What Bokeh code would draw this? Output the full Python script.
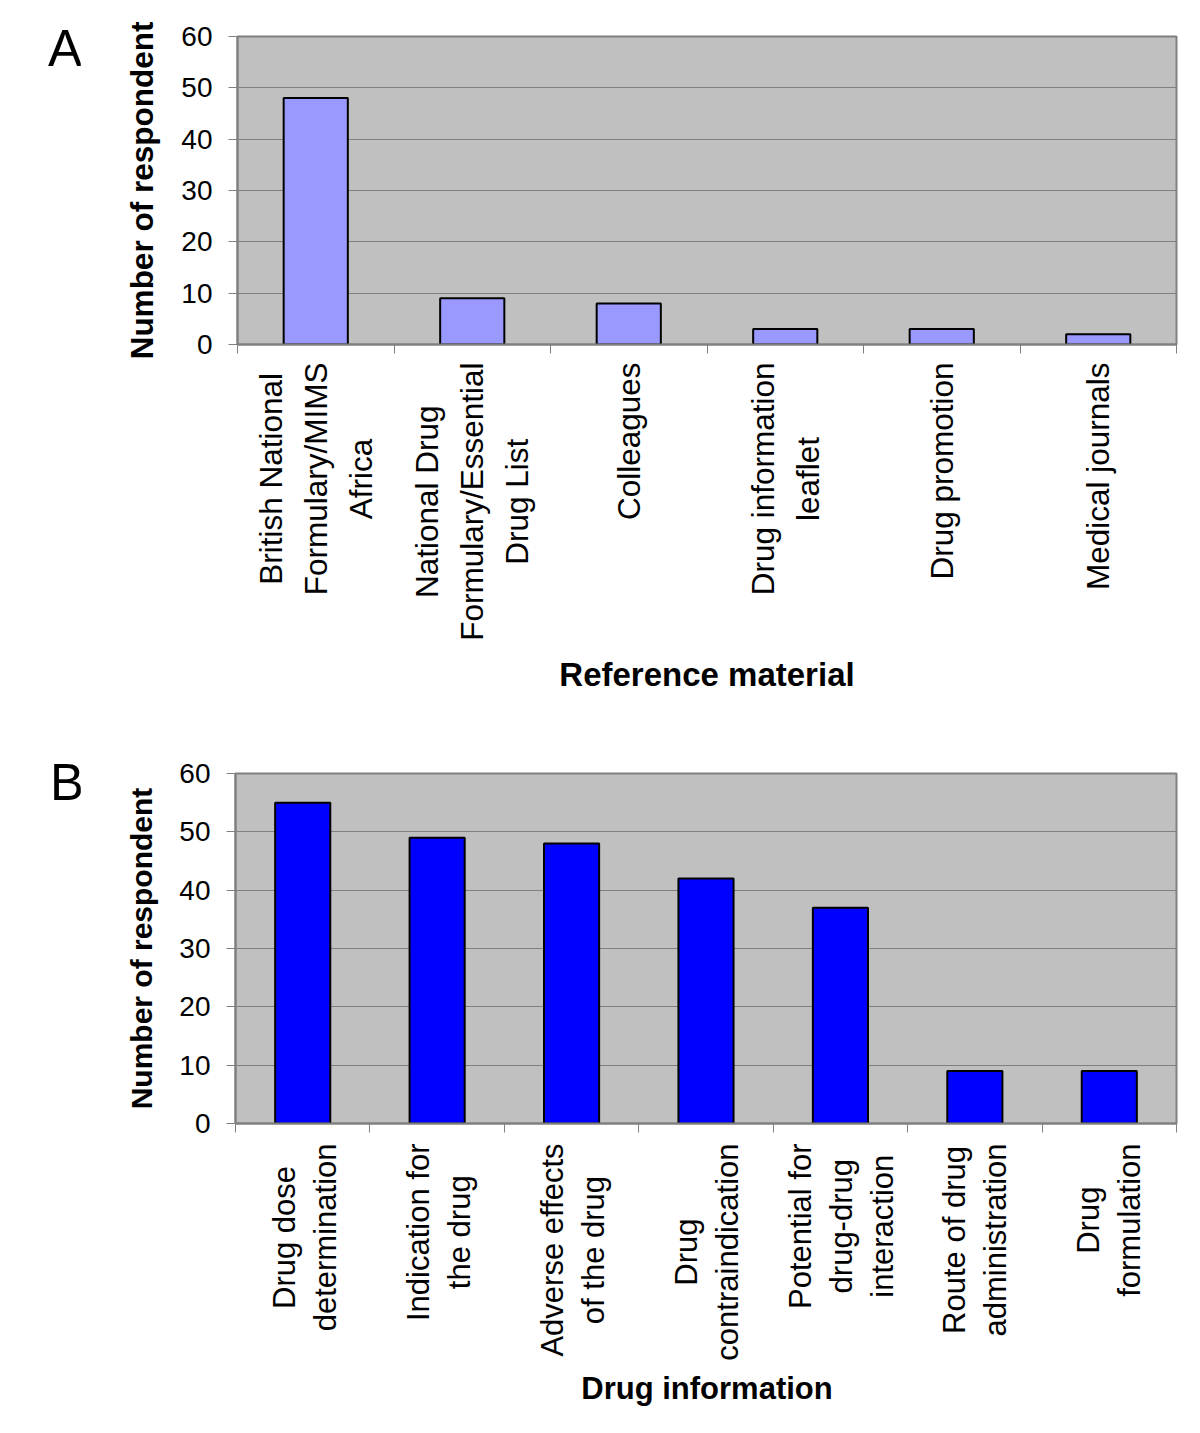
import math
import numpy as np
from bokeh.plotting import figure
from bokeh.models import Range1d, FixedTicker, Div
from bokeh.layouts import column, row
from bokeh.core.properties import value
from bokeh.embed import file_html
from bokeh.resources import INLINE

# ---- data ----
ref_categories = [
    "British National\nFormulary/MIMS\nAfrica",
    "National Drug\nFormulary/Essential\nDrug List",
    "Colleagues",
    "Drug information\nleaflet",
    "Drug promotion",
    "Medical journals",
]
ref_counts = [48, 9, 8, 3, 3, 2]

info_categories = [
    "Drug dose\ndetermination",
    "Indication for\nthe drug",
    "Adverse effects\nof the drug",
    "Drug\ncontraindication",
    "Potential for\ndrug-drug\ninteraction",
    "Route of drug\nadministration",
    "Drug\nformulation",
]
info_counts = [55, 49, 48, 42, 37, 9, 9]

y_ticks = [0, 10, 20, 30, 40, 50, 60]
y_title = "Number of respondent"

FONT = "Liberation Sans"
GRAY = "#808080"
TOTAL_W = 1192
LETTER_W = 80


def chart(cats, counts, color, height, frame_left, b_top, b_bottom, ytitle_size):
    n = len(cats)
    centers = list(np.arange(n) + 0.5)
    p = figure(width=TOTAL_W - LETTER_W, height=height, output_backend="svg",
               toolbar_location=None,
               x_range=Range1d(0, n), y_range=Range1d(0, 60),
               min_border_left=frame_left - LETTER_W, min_border_right=16,
               min_border_top=b_top, min_border_bottom=b_bottom)
    p.background_fill_color = "#C0C0C0"
    p.border_fill_color = "white"
    p.outline_line_color = GRAY
    p.outline_line_width = 2

    p.vbar(x=centers, top=counts, bottom=0, width=0.41,
           fill_color=color, line_color="black", line_width=2)

    xa = p.xaxis[0]
    xa.ticker = FixedTicker(ticks=[], minor_ticks=list(range(n + 1)))
    xa.major_tick_out = 0
    xa.major_tick_in = 0
    xa.minor_tick_out = 9
    xa.minor_tick_in = 0
    xa.minor_tick_line_color = GRAY
    xa.minor_tick_line_width = 1
    xa.axis_line_color = GRAY
    xa.axis_line_width = 2
    xa.major_label_text_font_size = "0px"
    xa.major_label_standoff = 0

    ya = p.yaxis[0]
    ya.ticker = FixedTicker(ticks=y_ticks)
    ya.major_tick_out = 9
    ya.major_tick_in = 0
    ya.minor_tick_out = 0
    ya.minor_tick_in = 0
    ya.major_tick_line_color = GRAY
    ya.axis_line_color = GRAY
    ya.axis_line_width = 2
    ya.major_label_text_font = FONT
    ya.major_label_text_font_size = "28px"
    ya.major_label_text_color = "black"
    ya.major_label_standoff = 16
    ya.axis_label = y_title
    ya.axis_label_text_font = FONT
    ya.axis_label_text_font_size = ytitle_size
    ya.axis_label_text_font_style = "bold"
    ya.axis_label_text_color = "black"
    ya.axis_label_standoff = 18

    p.xgrid.grid_line_color = None
    p.ygrid.ticker = FixedTicker(ticks=y_ticks)
    p.ygrid.grid_line_color = GRAY
    p.ygrid.grid_line_width = 1
    return p


def label_panel(cats, x_range, title, height, frame_left, b_bottom, anchor_px,
                title_standoff, label_size, line_height, title_size):
    n = len(cats)
    centers = list(np.arange(n) + 0.5)
    frame_h = height - b_bottom
    f = figure(width=TOTAL_W, height=height, output_backend="svg", toolbar_location=None,
               x_range=x_range, y_range=Range1d(-frame_h, 0),
               min_border_left=frame_left, min_border_right=16,
               min_border_top=0, min_border_bottom=b_bottom)
    f.outline_line_color = None
    f.background_fill_color = "white"
    f.xgrid.grid_line_color = None
    f.ygrid.grid_line_color = None
    f.yaxis.visible = False

    f.text(x=centers, y=[-anchor_px] * n, text=cats, angle=math.pi / 2,
           anchor="center_right", text_align="center",
           text_font=value(FONT), text_font_size=label_size,
           text_line_height=line_height, text_color="black")

    xa = f.xaxis[0]
    xa.ticker = FixedTicker(ticks=[])
    xa.axis_line_color = None
    xa.major_tick_out = 0
    xa.major_tick_in = 0
    xa.minor_tick_out = 0
    xa.minor_tick_in = 0
    xa.major_label_text_font_size = "0px"
    xa.major_label_standoff = 0
    xa.axis_label = title
    xa.axis_label_text_font = FONT
    xa.axis_label_text_font_size = title_size
    xa.axis_label_text_font_style = "bold"
    xa.axis_label_text_color = "black"
    xa.axis_label_standoff = title_standoff
    return f


def letter_div(letter, height, pad_top, pad_left):
    return Div(text=letter, width=LETTER_W, height=height, margin=0,
               styles={"font-family": FONT, "font-size": "51px", "line-height": "51px",
                       "padding-top": f"{pad_top}px", "padding-left": f"{pad_left}px",
                       "color": "black", "box-sizing": "border-box"})


# panel A
ca = chart(ref_categories, ref_counts, "#9999FF", height=362, frame_left=237,
           b_top=36, b_bottom=18, ytitle_size="31.5px")
la = label_panel(ref_categories, ca.x_range, "Reference material", height=362,
                 frame_left=237, b_bottom=74, anchor_px=0, title_standoff=5,
                 label_size="31.5px", line_height=1.25, title_size="33px")
# panel B
cb = chart(info_categories, info_counts, "#0000FF", height=417, frame_left=235,
           b_top=49, b_bottom=18, ytitle_size="30px")
lb = label_panel(info_categories, cb.x_range, "Drug information", height=284,
                 frame_left=235, b_bottom=60, anchor_px=2, title_standoff=5,
                 label_size="31px", line_height=1.17, title_size="31px")

layout = column(
    row(letter_div("A", 362, 23, 48), ca, spacing=0),
    la,
    row(letter_div("B", 417, 33, 50), cb, spacing=0),
    lb,
    spacing=0,
)
open("out.html", "w").write(file_html(layout, INLINE))
